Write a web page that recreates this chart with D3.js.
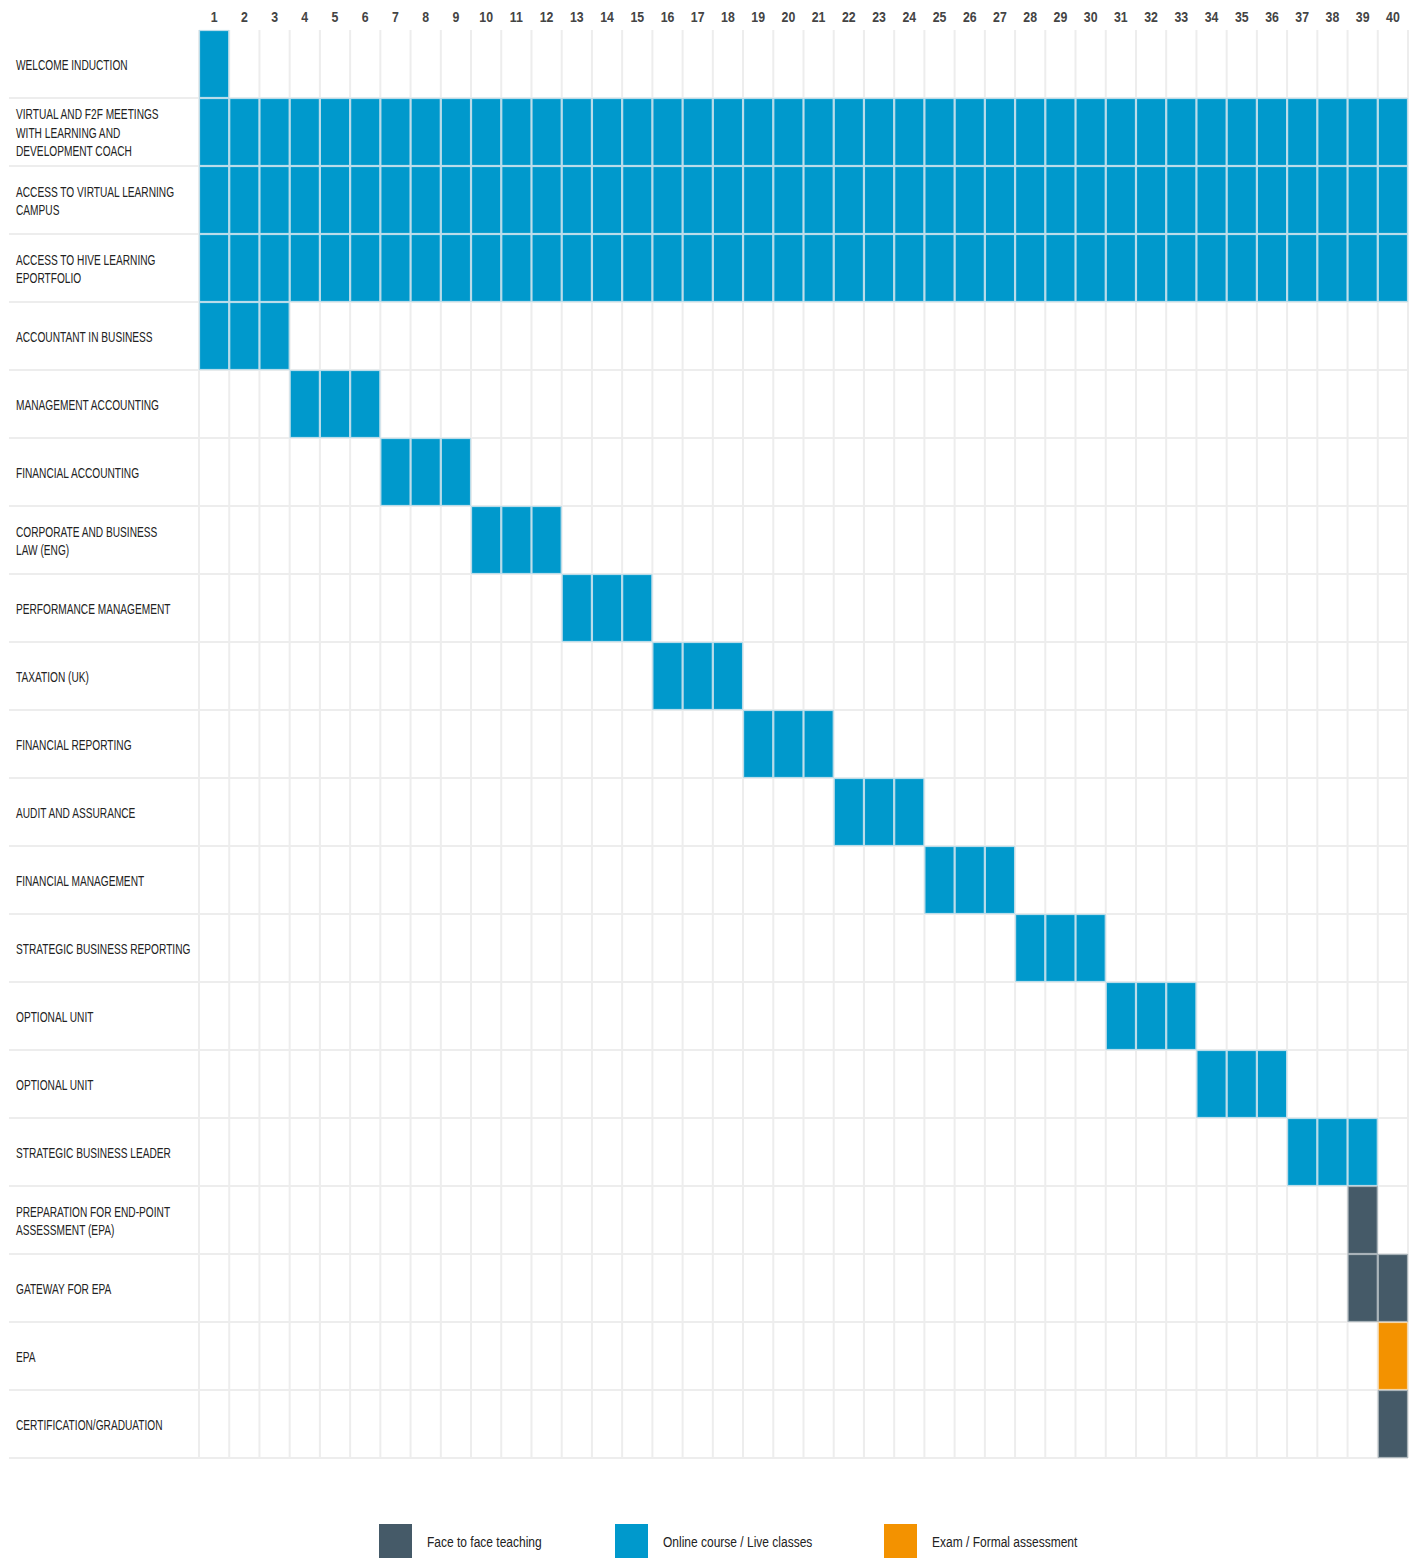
<!DOCTYPE html>
<html>
<head>
<meta charset="utf-8">
<script src="https://cdn.jsdelivr.net/npm/d3@7"></script>
<style>
  body { margin: 0; background: #fff; }
  svg text { font-family: "Liberation Sans", Arial, sans-serif; }
</style>
</head>
<body>
<div id="content"></div>
<script>
// months shown along the top
var months = d3.range(1, 41);

// one entry per row: label lines, first month, last month, kind
var labels = [
  ["WELCOME INDUCTION"],
  ["VIRTUAL AND F2F MEETINGS", "WITH LEARNING AND", "DEVELOPMENT COACH"],
  ["ACCESS TO VIRTUAL LEARNING", "CAMPUS"],
  ["ACCESS TO HIVE LEARNING", "EPORTFOLIO"],
  ["ACCOUNTANT IN BUSINESS"],
  ["MANAGEMENT ACCOUNTING"],
  ["FINANCIAL ACCOUNTING"],
  ["CORPORATE AND BUSINESS", "LAW (ENG)"],
  ["PERFORMANCE MANAGEMENT"],
  ["TAXATION (UK)"],
  ["FINANCIAL REPORTING"],
  ["AUDIT AND ASSURANCE"],
  ["FINANCIAL MANAGEMENT"],
  ["STRATEGIC BUSINESS REPORTING"],
  ["OPTIONAL UNIT"],
  ["OPTIONAL UNIT"],
  ["STRATEGIC BUSINESS LEADER"],
  ["PREPARATION FOR END-POINT", "ASSESSMENT (EPA)"],
  ["GATEWAY FOR EPA"],
  ["EPA"],
  ["CERTIFICATION/GRADUATION"]
];
var startMonth = [1, 1, 1, 1, 1, 4, 7, 10, 13, 16, 19, 22, 25, 28, 31, 34, 37, 39, 39, 40, 40];
var endMonth   = [1, 40, 40, 40, 3, 6, 9, 12, 15, 18, 21, 24, 27, 30, 33, 36, 39, 39, 40, 40, 40];
var kind = ["online", "online", "online", "online", "online", "online", "online", "online", "online",
            "online", "online", "online", "online", "online", "online", "online", "online",
            "face", "face", "exam", "face"];

var legendKeys = ["face", "online", "exam"];
var legendNames = ["Face to face teaching", "Online course / Live classes", "Exam / Formal assessment"];

var fill = {face: "#455a68", online: "#0099cc", exam: "#f39200"};
var edge = {face: "#a9b3b9", online: "#b9dcea", exam: "#f6d7a8"};

var width = 1415, height = 1558;
var gridLeft = 199, gridRight = 1408, gridTop = 30, gridBottom = 1458;

var svg = d3.select("#content").append("svg")
    .attr("width", width)
    .attr("height", height);

var x = d3.scaleBand().domain(months).range([gridLeft, gridRight]);
var y = d3.scaleBand().domain(d3.range(labels.length)).range([gridTop, gridBottom]);

// grid
svg.append("g").selectAll("line")
    .data(d3.range(months.length + 1))
    .join("line")
    .attr("x1", function(i){ return gridLeft + i * x.bandwidth(); })
    .attr("x2", function(i){ return gridLeft + i * x.bandwidth(); })
    .attr("y1", gridTop)
    .attr("y2", gridBottom)
    .attr("stroke", "#ededed")
    .attr("stroke-width", 2);

svg.append("g").selectAll("line")
    .data(d3.range(1, labels.length + 1))
    .join("line")
    .attr("x1", 9)
    .attr("x2", gridRight)
    .attr("y1", function(i){ return gridTop + i * y.bandwidth(); })
    .attr("y2", function(i){ return gridTop + i * y.bandwidth(); })
    .attr("stroke", "#ededed")
    .attr("stroke-width", 2);

// month numbers
var axis = d3.axisTop(x).tickSize(0).tickPadding(0);
var ax = svg.append("g").attr("transform", "translate(0,22)").call(axis);
ax.select(".domain").remove();
ax.selectAll("text")
    .attr("font-size", 14)
    .attr("font-weight", "bold")
    .attr("fill", "#444")
    .attr("transform", "scale(0.88,1)")
    .style("font-family", "'Liberation Sans', Arial, sans-serif");

// cells
var cells = [];
labels.forEach(function(l, r){
    for (var m = startMonth[r]; m <= endMonth[r]; m++) cells.push({row: r, month: m, kind: kind[r]});
});

svg.append("g").selectAll("rect")
    .data(cells)
    .join("rect")
    .attr("x", function(d){ return x(d.month) + 0.5; })
    .attr("y", function(d){ return y(d.row) + 0.5; })
    .attr("width", x.bandwidth() - 1)
    .attr("height", y.bandwidth() - 1)
    .attr("fill", function(d){ return fill[d.kind]; })
    .attr("stroke", function(d){ return edge[d.kind]; })
    .attr("stroke-width", 1.2);

// row labels
var lab = svg.append("g").selectAll("text")
    .data(labels)
    .join("text")
    .attr("transform", function(d, i){
        var cy = y(i) + y.bandwidth() / 2 - (d.length - 1) * 9.25;
        return "translate(16," + (cy + 5.8) + ") scale(0.655,1)";
    })
    .attr("font-size", 15.5)
    .attr("fill", "#222");

lab.selectAll("tspan")
    .data(function(d){ return d; })
    .join("tspan")
    .attr("x", 0)
    .attr("dy", function(d, i){ return i === 0 ? 0 : 18.5; })
    .text(function(d){ return d; });

// legend
var legendX = [379, 615, 884];
var lg = svg.append("g").selectAll("g")
    .data(legendKeys)
    .join("g")
    .attr("transform", function(d, i){ return "translate(" + legendX[i] + ",1524)"; });

lg.append("rect")
    .attr("width", 33)
    .attr("height", 34)
    .attr("fill", function(d){ return fill[d]; });

lg.append("text")
    .attr("transform", "translate(48,23) scale(0.8,1)")
    .attr("font-size", 15)
    .attr("fill", "#222")
    .text(function(d, i){ return legendNames[i]; });
</script>
</body>
</html>
